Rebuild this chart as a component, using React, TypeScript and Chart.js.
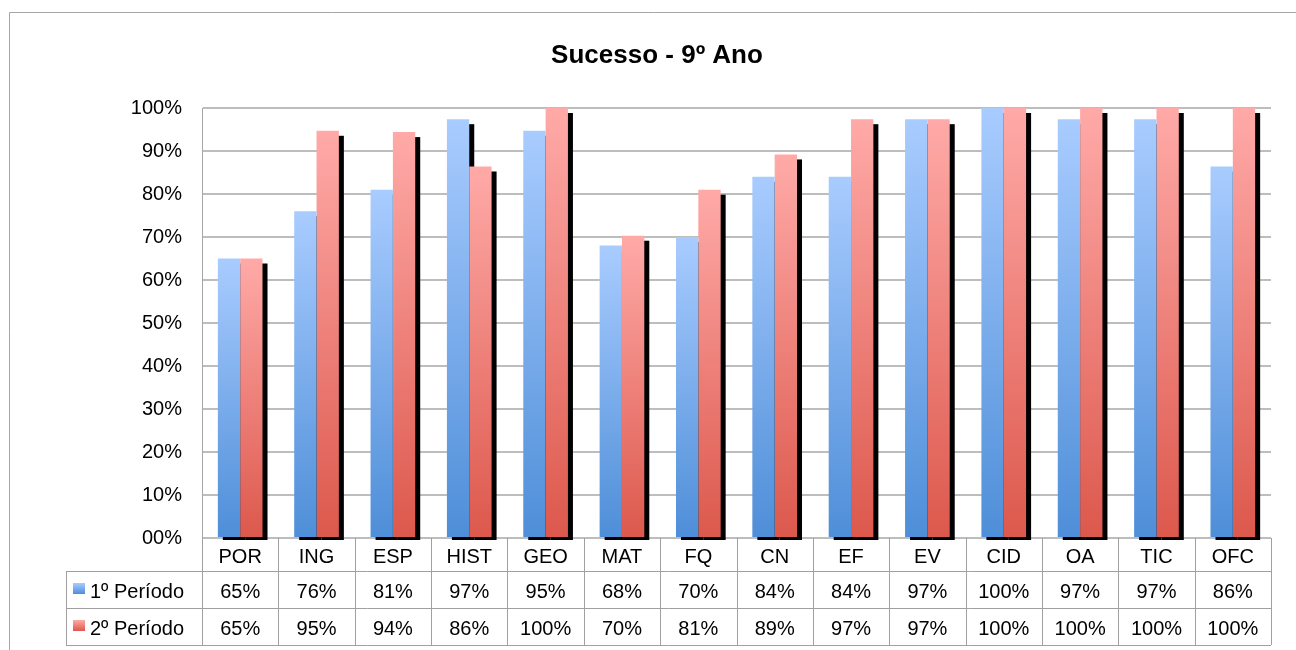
import React, { useEffect, useRef } from "react";
import { Chart, registerables } from "chart.js";

Chart.register(...registerables);

const categories = ["POR", "ING", "ESP", "HIST", "GEO", "MAT", "FQ", "CN", "EF", "EV", "CID", "OA", "TIC", "OFC"];
const periodo1 = [65, 76, 81, 97.4, 94.7, 68, 70, 84, 84, 97.4, 100, 97.4, 97.4, 86.4];
const periodo2 = [65, 94.7, 94.4, 86.4, 100, 70.3, 81, 89.2, 97.4, 97.4, 100, 100, 100, 100];
const seriesNames = ["1º Período", "2º Período"];
const yTicks = [0, 10, 20, 30, 40, 50, 60, 70, 80, 90, 100];
const title = "Sucesso - 9º Ano";

const FONT = "'Liberation Sans', Arial, sans-serif";
const BLUE = ["#A9CCFF", "#4E8ED8"];
const RED = ["#FFAAA8", "#DC584C"];

function gradientFor(stops: string[]) {
  return (c: any) => {
    const chart = c.chart;
    const ca = chart.chartArea;
    if (!ca || c.type !== "data") return stops[1];
    const y = chart.scales.y;
    const top = y.getPixelForValue(c.raw);
    const bot = y.getPixelForValue(0);
    if (!isFinite(top) || !isFinite(bot) || top === bot) return stops[1];
    const g = chart.ctx.createLinearGradient(0, top, 0, bot);
    g.addColorStop(0, stops[0]);
    g.addColorStop(1, stops[1]);
    return g;
  };
}

const shadowPlugin = {
  id: "barShadows",
  beforeDatasetsDraw(chart: any) {
    const ctx = chart.ctx;
    const base = chart.scales.y.getPixelForValue(0);
    ctx.save();
    ctx.fillStyle = "#000";
    chart.data.datasets.forEach((_: any, i: number) => {
      const meta = chart.getDatasetMeta(i);
      meta.data.forEach((bar: any) => {
        const p = bar.getProps(["x", "y", "width"], true);
        const left = p.x - p.width / 2 + 5;
        const top = p.y + 5;
        ctx.fillRect(left, top, p.width, base + 2 - top);
      });
    });
    ctx.restore();
  },
};

const tablePlugin = {
  id: "dataTable",
  afterDraw(chart: any) {
    const ctx = chart.ctx;
    const ca = chart.chartArea;
    const n = categories.length;
    const cw = (ca.right - ca.left) / n;
    const h0 = ca.bottom;
    const h1 = 571;
    const h2 = 608;
    const h3 = 645;
    const legLeft = 66;
    ctx.save();
    // outer border
    ctx.strokeStyle = "#a6a6a6";
    ctx.lineWidth = 1;
    ctx.beginPath();
    ctx.moveTo(9.5, 660);
    ctx.lineTo(9.5, 12.5);
    ctx.lineTo(1300, 12.5);
    ctx.stroke();

    // title
    ctx.fillStyle = "#000";
    ctx.font = `bold 26px ${FONT}`;
    ctx.textAlign = "center";
    ctx.textBaseline = "alphabetic";
    ctx.fillText(title, 657, 63);

    // table lines
    ctx.strokeStyle = "#a0a0a0";
    ctx.lineWidth = 1;
    ctx.beginPath();
    for (let k = 0; k <= n; k++) {
      const x = Math.round(ca.left + k * cw) + 0.5;
      ctx.moveTo(x, h0);
      ctx.lineTo(x, h3);
    }
    [h1, h2, h3].forEach((y) => {
      ctx.moveTo(legLeft, y + 0.5);
      ctx.lineTo(ca.right, y + 0.5);
    });
    ctx.moveTo(legLeft + 0.5, h1);
    ctx.lineTo(legLeft + 0.5, h3);
    ctx.stroke();

    // header labels
    ctx.font = `20px ${FONT}`;
    ctx.fillStyle = "#000";
    ctx.textAlign = "center";
    categories.forEach((c, k) => {
      ctx.fillText(c, ca.left + (k + 0.5) * cw, 562.5);
    });
    // values
    const rows = [periodo1, periodo2];
    const baselines = [598, 635];
    rows.forEach((row, r) => {
      row.forEach((v, k) => {
        ctx.fillText(Math.round(v) + "%", ca.left + (k + 0.5) * cw, baselines[r]);
      });
    });
    // legend keys
    const stops = [BLUE, RED];
    ctx.textAlign = "left";
    seriesNames.forEach((name, r) => {
      const sy = baselines[r] - 15;
      const g = ctx.createLinearGradient(0, sy, 0, sy + 11);
      g.addColorStop(0, stops[r][0]);
      g.addColorStop(1, stops[r][1]);
      ctx.fillStyle = g;
      ctx.fillRect(73, sy, 12, 11);
      ctx.fillStyle = "#000";
      ctx.fillText(name, 90, baselines[r]);
    });
    ctx.restore();
  },
};

export default function App() {
  const ref = useRef<HTMLCanvasElement | null>(null);
  useEffect(() => {
    if (!ref.current) return;
    Chart.defaults.font.family = FONT;
    const chart = new Chart(ref.current, {
      type: "bar",
      data: {
        labels: categories,
        datasets: [
          {
            label: seriesNames[0],
            data: periodo1,
            backgroundColor: gradientFor(BLUE) as any,
            borderWidth: 0,
            categoryPercentage: 0.585,
            barPercentage: 1,
          },
          {
            label: seriesNames[1],
            data: periodo2,
            backgroundColor: gradientFor(RED) as any,
            borderWidth: 0,
            categoryPercentage: 0.585,
            barPercentage: 1,
          },
        ],
      },
      options: {
        responsive: false,
        animation: false,
        layout: { padding: { left: 102, top: 108, right: 25, bottom: 112 } },
        plugins: {
          legend: { display: false },
          title: { display: false },
          tooltip: { enabled: false },
        },
        scales: {
          x: { display: false },
          y: {
            min: 0,
            max: 100,
            afterFit: (s: any) => {
              s.width = 100;
            },
            afterBuildTicks: (s: any) => {
              s.ticks = yTicks.map((v) => ({ value: v }));
            },
            ticks: {
              padding: 20,
              color: "#000",
              font: { size: 20, family: FONT },
              callback: (v: any) => (Number(v) === 0 ? "00%" : v + "%"),
            },
            grid: { color: "#bdbdbd", lineWidth: 2, drawTicks: false },
            border: { display: true, color: "#a6a6a6", width: 1 },
          },
        },
      },
      plugins: [shadowPlugin, tablePlugin],
    });
    return () => chart.destroy();
  }, []);
  return (
    <div style={{ position: "absolute", left: 0, top: 0, width: 1296, height: 650, background: "#fff" }}>
      <canvas ref={ref} width={1296} height={650} style={{ display: "block" }} />
    </div>
  );
}
